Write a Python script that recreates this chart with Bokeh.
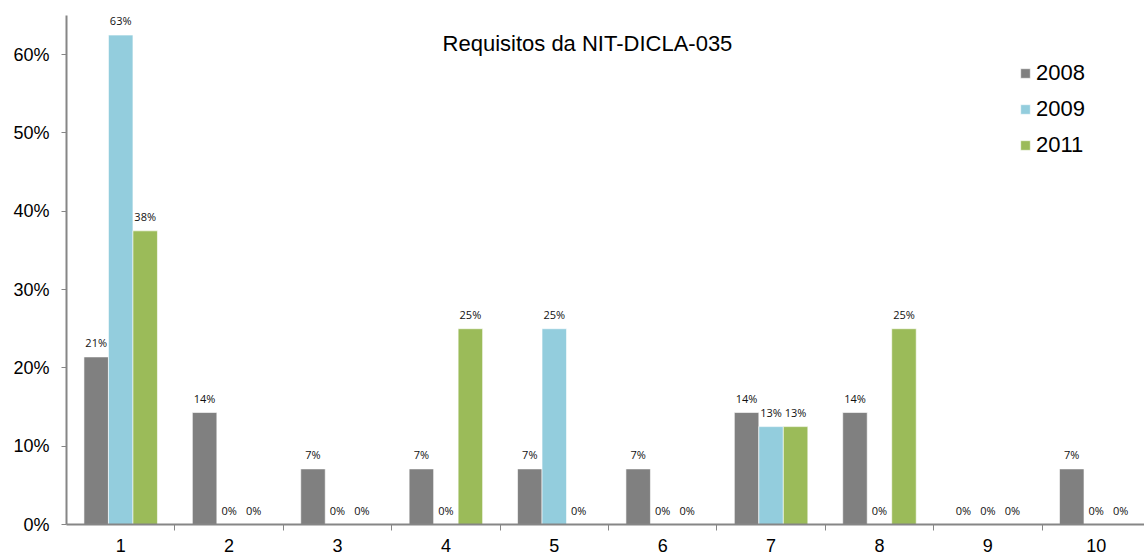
from bokeh.plotting import figure
from bokeh.models import (ColumnDataSource, FixedTicker, NumeralTickFormatter, LabelSet,
                          Label, Legend, LegendItem, Range1d)
from bokeh.core.properties import value
from bokeh.embed import file_html
from bokeh.resources import INLINE

categories = [1, 2, 3, 4, 5, 6, 7, 8, 9, 10]
series_names = ["2008", "2009", "2011"]
v2008 = [21.4, 14.3, 7.1, 7.1, 7.1, 7.1, 14.3, 14.3, 0.0, 7.1]
v2009 = [62.5, 0.0, 0.0, 0.0, 25.0, 0.0, 12.5, 0.0, 0.0, 0.0]
v2011 = [37.5, 0.0, 0.0, 25.0, 0.0, 0.0, 12.5, 25.0, 0.0, 0.0]
y_ticks = [0.0, 0.1, 0.2, 0.3, 0.4, 0.5, 0.6]
title_text = "Requisitos da NIT-DICLA-035"

colors = ["#808080", "#93CDDD", "#9BBB59"]
bar_w = 0.226
offsets = [-bar_w, 0.0, bar_w]

p = figure(width=1144, height=554, output_backend="svg", toolbar_location=None,
           x_range=Range1d(0.5, 10.445), y_range=Range1d(0, 0.65),
           min_border_left=66, min_border_right=0, min_border_top=15, min_border_bottom=30)
p.outline_line_color = None
p.xgrid.grid_line_color = None
p.ygrid.grid_line_color = None
p.background_fill_color = "white"
p.border_fill_color = "white"

legend_items = []
for name, vals, col, off in zip(series_names, [v2008, v2009, v2011], colors, offsets):
    src = ColumnDataSource(dict(
        x=[c + off for c in categories],
        top=[v / 100.0 for v in vals],
        lbl=["%d%%" % int(v + 0.5) for v in vals],
    ))
    r = p.vbar(x="x", top="top", width=bar_w, source=src, fill_color=col,
               line_color="white", line_width=0.6)
    legend_items.append(LegendItem(label=name, renderers=[r]))
    p.add_layout(LabelSet(x="x", y="top", text="lbl", source=src, text_align="center",
                          text_baseline="bottom", y_offset=7, text_font_size=value("11px"),
                          text_font=value("Open Sans"), text_color=value("#111111")))

# axes
xa = p.xaxis[0]
xa.ticker = FixedTicker(ticks=categories, minor_ticks=[c + 0.5 for c in categories[:-1]])
xa.major_tick_line_color = None
xa.major_tick_out = 0
xa.major_tick_in = 0
xa.minor_tick_out = 6
xa.minor_tick_in = 0
xa.minor_tick_line_color = "#868686"
xa.axis_line_color = "#868686"
xa.axis_line_width = 2
xa.major_label_text_font = "Liberation Sans"
xa.major_label_text_font_size = "18px"
xa.major_label_text_color = "#000000"
xa.major_label_standoff = 8

ya = p.yaxis[0]
ya.ticker = FixedTicker(ticks=y_ticks)
ya.formatter = NumeralTickFormatter(format="0%")
ya.minor_tick_line_color = None
ya.major_tick_out = 5
ya.major_tick_in = 0
ya.major_tick_line_color = "#868686"
ya.axis_line_color = "#868686"
ya.axis_line_width = 2
ya.major_label_text_font = "Liberation Sans"
ya.major_label_text_font_size = "18px"
ya.major_label_text_color = "#000000"
ya.major_label_standoff = 12

p.add_layout(Label(x=5.306, y=0.614, text=title_text, text_align="center",
                   text_baseline="middle", text_font="Liberation Sans",
                   text_font_size="22px", text_color="#000000"))

legend = Legend(items=legend_items, location=(953, 366), border_line_color=None,
                background_fill_alpha=0, padding=0, margin=0, spacing=10,
                glyph_width=12, glyph_height=12, label_height=24, label_standoff=5,
                label_text_font="Liberation Sans", label_text_font_size="22px",
                label_text_color="#000000")
p.add_layout(legend)

open("out.html", "w").write(file_html(p, INLINE))
